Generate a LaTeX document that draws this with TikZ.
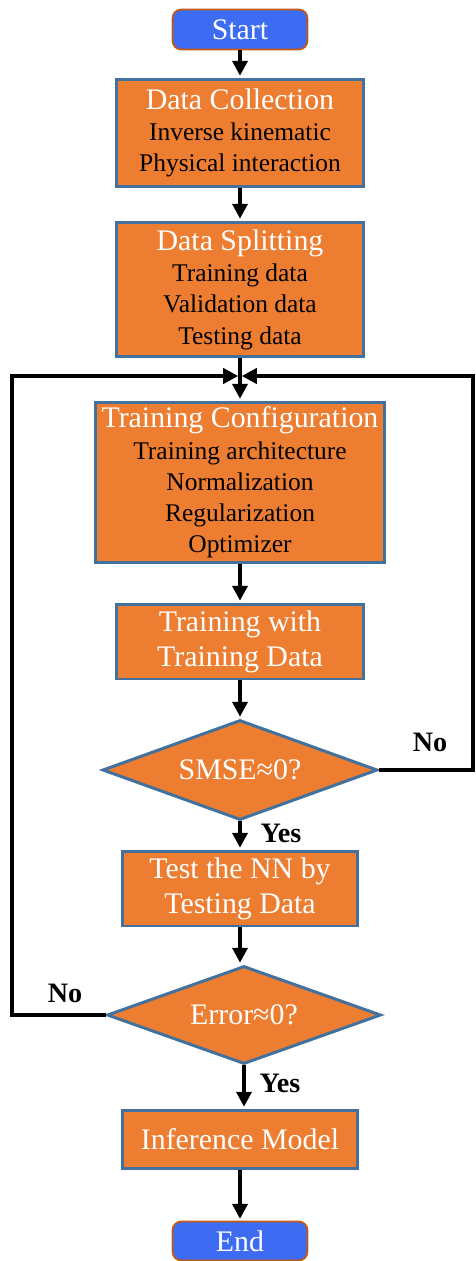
\documentclass[tikz,border=0pt]{standalone}
\usepackage{fontspec}
\setmainfont{Liberation Serif}
\usetikzlibrary{arrows.meta}
\usetikzlibrary{shapes.geometric}

\definecolor{boxfill}{HTML}{ED7D31}
\definecolor{boxline}{HTML}{41719C}
\definecolor{termfill}{HTML}{3D6BF2}
\definecolor{termline}{HTML}{C55A11}

\begin{document}
\begin{tikzpicture}[x=0.02cm,y=-0.02cm,line width=2.3pt,draw=black]
	\def \colx{240}
	\def \ttl#1{{\color{white}\fontsize{17}{18.5}\selectfont #1}}
	\tikzstyle{t-node}=[rectangle,rounded corners=5pt,fill=termfill,draw=termline,line width=1pt,text=white,font=\fontsize{17}{17}\selectfont,minimum width=2.7cm,minimum height=0.8cm]
	\tikzstyle{p-node}=[rectangle,fill=boxfill,draw=boxline,line width=1.7pt,align=center,inner sep=0pt,font=\fontsize{14.5}{17.8}\selectfont]
	\tikzstyle{w-node}=[p-node,text=white,font=\fontsize{17}{20}\selectfont]
	\tikzstyle{d-node}=[diamond,aspect=2.75,fill=boxfill,draw=boxline,line width=1.7pt,inner sep=0pt,text=white,font=\fontsize{17}{17}\selectfont]
	\tikzstyle{flow}=[-{Triangle[length=0.3cm,width=0.3cm]},line width=2.3pt,shorten >=1pt]
	\tikzstyle{annot}=[font=\bfseries\fontsize{16}{16}\selectfont]
	\useasboundingbox (0,0) rectangle (476,1261);

	% terminals
	\node[t-node] (start) at (\colx,29.5) {Start};
	\node[t-node,minimum height=0.78cm] (end) at (\colx,1241) {End};

	% process boxes
	\node[p-node,minimum width=4.94cm,minimum height=2.16cm] (coll) at (\colx,133)
		{\ttl{Data Collection}\\Inverse kinematic\\Physical interaction};
	\node[p-node,minimum width=4.94cm,minimum height=2.7cm] (split) at (\colx,289.5)
		{\ttl{Data Splitting}\\Training data\\Validation data\\Testing data};
	\node[p-node,minimum width=5.8cm,minimum height=3.22cm] (config) at (\colx,482.5)
		{\ttl{Training Configuration}\\Training architecture\\Normalization\\Regularization\\Optimizer};
	\node[w-node,minimum width=4.94cm,minimum height=1.5cm] (train) at (\colx,641.5)
		{Training with\\Training Data};
	\node[w-node,minimum width=4.7cm,minimum height=1.5cm] (test) at (\colx,888.5)
		{Test the NN by\\Testing Data};
	\node[w-node,minimum width=4.7cm,minimum height=1.16cm] (infer) at (\colx,1139)
		{Inference Model};

	% decisions
	\node[d-node,minimum width=5.5cm,minimum height=2cm] (smse) at (\colx,770) {SMSE≈0?};
	\node[d-node,minimum width=5.48cm,minimum height=1.96cm] (err) at (244,1015) {Error≈0?};

	% loop corners
	\coordinate (merge) at (\colx,376);
	\coordinate (lt) at (12,376);
	\coordinate (rt) at (473,376);

	% labels
	\node[annot] (no1) at (430,742) {No};
	\node[annot] (yes1) at (281,833) {Yes};
	\node[annot] (no2) at (65,993) {No};
	\node[annot] (yes2) at (280,1083) {Yes};

	\draw[flow] (start) -- (coll);
	\draw[flow] (coll) -- (split);
	\draw[flow] (split) -- (config);
	\draw[flow] (config) -- (train);
	\draw[flow] (train) -- (smse);
	\draw[flow] (smse) -- (test);
	\draw[flow] (test) -- (test |- err.north);
	\draw[flow] (err.south) -- (err.south |- infer.north);
	\draw[flow] (infer) -- (end);
	\draw[flow] (smse.east) -| (rt) -- (merge);
	\draw[flow] (err.west) -| (lt) -- (merge);
\end{tikzpicture}
\end{document}
